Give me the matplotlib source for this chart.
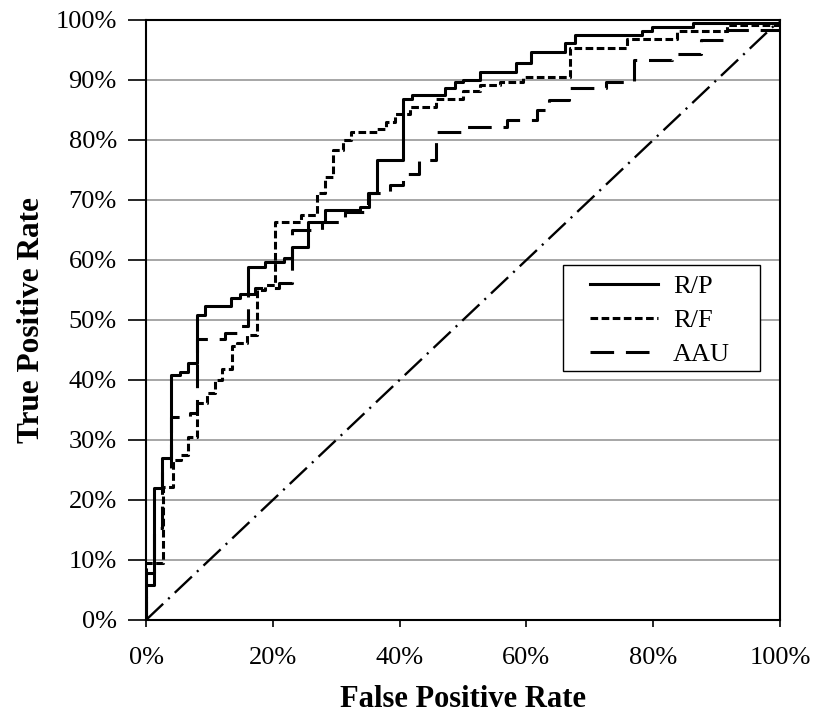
import matplotlib
matplotlib.use("Agg")
import matplotlib.pyplot as plt
from matplotlib.patches import Rectangle
from matplotlib.ticker import PercentFormatter, MultipleLocator

plt.rcParams["font.family"] = ["Liberation Serif", "DejaVu Serif"]
plt.rcParams["lines.scale_dashes"] = False

# ---- data (percent), corner points of the step curves ----
rp_fpr = [0, 0, 1.3, 1.3, 2.6, 2.6, 4.0, 4.0, 5.3, 5.3, 6.7, 6.7, 8.1, 8.1, 9.3, 9.3,
          13.4, 13.4, 14.8, 14.8, 16.1, 16.1, 18.8, 18.8, 21.7, 21.7, 23.0, 23.0,
          25.6, 25.6, 28.2, 28.2, 33.8, 33.8, 35.1, 35.1, 36.4, 36.4, 40.6, 40.6,
          41.9, 41.9, 47.2, 47.2, 48.7, 48.7, 50.0, 50.0, 52.7, 52.7, 58.4, 58.4,
          60.8, 60.8, 66.1, 66.1, 67.7, 67.7, 78.2, 78.2, 79.8, 79.8, 86.3, 86.3,
          100, 100]
rp_tpr = [0, 7.8, 7.8, 22.0, 22.0, 27.0, 27.0, 40.8, 40.8, 41.4, 41.4, 42.8, 42.8, 50.8,
          50.8, 52.3, 52.3, 53.6, 53.6, 54.4, 54.4, 58.9, 58.9, 59.7, 59.7, 60.3,
          60.3, 62.2, 62.2, 66.4, 66.4, 68.3, 68.3, 68.9, 68.9, 71.1, 71.1, 76.7,
          76.7, 86.8, 86.8, 87.5, 87.5, 88.6, 88.6, 89.6, 89.6, 90.0, 90.0, 91.4,
          91.4, 92.8, 92.8, 94.7, 94.7, 96.1, 96.1, 97.5, 97.5, 98.1, 98.1, 98.9,
          98.9, 99.5, 99.5, 100]

rf_fpr = [0, 0, 2.7, 2.7, 4.2, 4.2, 5.5, 5.5, 6.7, 6.7, 8.1, 8.1, 9.7, 9.7, 10.9, 10.9,
          12.0, 12.0, 13.5, 13.5, 14.3, 14.3, 15.9, 15.9, 17.5, 17.5, 18.8, 18.8,
          20.3, 20.3, 24.5, 24.5, 26.9, 26.9, 28.2, 28.2, 29.5, 29.5, 31.1, 31.1,
          32.4, 32.4, 36.4, 36.4, 37.8, 37.8, 39.3, 39.3, 41.6, 41.6, 45.8, 45.8,
          50.0, 50.0, 52.7, 52.7, 55.8, 55.8, 59.5, 59.5, 66.8, 66.8, 75.8, 75.8,
          83.7, 83.7, 91.6, 91.6, 100, 100]
rf_tpr = [0, 9.5, 9.5, 22.2, 22.2, 26.7, 26.7, 27.5, 27.5, 30.5, 30.5, 36.1, 36.1, 37.8,
          37.8, 40.0, 40.0, 41.9, 41.9, 45.6, 45.6, 46.1, 46.1, 47.5, 47.5, 55.0,
          55.0, 55.8, 55.8, 66.4, 66.4, 67.5, 67.5, 71.1, 71.1, 73.9, 73.9, 78.3,
          78.3, 80.0, 80.0, 81.4, 81.4, 81.9, 81.9, 83.0, 83.0, 84.4, 84.4, 85.5,
          85.5, 86.8, 86.8, 88.1, 88.1, 89.2, 89.2, 89.7, 89.7, 90.5, 90.5, 95.3,
          95.3, 96.9, 96.9, 98.1, 98.1, 99.2, 99.2, 100]

aau_fpr = [0, 0, 1.3, 1.3, 2.6, 2.6, 4.0, 4.0, 6.9, 6.9, 8.1, 8.1, 12.5, 12.5, 14.8,
           14.8, 16.1, 16.1, 17.2, 17.2, 21.0, 21.0, 23.0, 23.0, 27.7, 27.7, 31.4,
           31.4, 35.0, 35.0, 38.5, 38.5, 40.6, 40.6, 43.0, 43.0, 45.8, 45.8, 50.6,
           50.6, 57.0, 57.0, 61.6, 61.6, 63.5, 63.5, 66.7, 66.7, 72.5, 72.5, 76.9,
           76.9, 83.0, 83.0, 87.6, 87.6, 91.6, 91.6, 100, 100]
aau_tpr = [0, 5.8, 5.8, 15.3, 15.3, 24.7, 24.7, 33.8, 33.8, 34.5, 34.5, 46.8, 46.8,
           47.8, 47.8, 49.0, 49.0, 54.4, 54.4, 55.3, 55.3, 56.1, 56.1, 65.0, 65.0,
           66.4, 66.4, 68.0, 68.0, 71.1, 71.1, 72.5, 72.5, 74.4, 74.4, 76.7, 76.7,
           81.4, 81.4, 82.2, 82.2, 83.3, 83.3, 85.0, 85.0, 86.7, 86.7, 88.6, 88.6,
           89.7, 89.7, 93.3, 93.3, 94.4, 94.4, 96.7, 96.7, 98.3, 98.3, 100]

diag = [0, 100]

# ---- plot ----
fig = plt.figure(figsize=(8.14, 7.14), dpi=100)
ax = fig.add_axes([146 / 814, 1 - 620 / 714, 634 / 814, 600 / 714])

for y in range(10, 100, 10):
    ax.axhline(y, color="#a6a6a6", lw=1.4, zorder=0)

ax.plot(rp_fpr, rp_tpr, color="black", lw=2.2, label="R/P")
ax.plot(rf_fpr, rf_tpr, color="black", lw=2.2, dashes=(5.5, 2.5), label="R/F")
ax.plot(aau_fpr, aau_tpr, color="black", lw=2.2, dashes=(17, 8.5), label="AAU")
ax.plot(diag, diag, color="black", lw=1.7, dashes=(17, 5, 1.5, 5))

ax.set_xlim(0, 100)
ax.set_ylim(0, 100)
ax.xaxis.set_major_locator(MultipleLocator(20))
ax.yaxis.set_major_locator(MultipleLocator(10))
ax.xaxis.set_major_formatter(PercentFormatter(decimals=0))
ax.yaxis.set_major_formatter(PercentFormatter(decimals=0))
ax.tick_params(direction="out", width=1.2, labelsize=19)
ax.tick_params(axis="x", length=5, pad=14.5)
ax.tick_params(axis="y", length=13, pad=8)
for s in ax.spines.values():
    s.set_linewidth(1.5)

ax.set_xlabel("False Positive Rate", fontsize=22, fontweight="bold")
ax.set_ylabel("True Positive Rate", fontsize=22.5, fontweight="bold")
ax.xaxis.set_label_coords(0.5, -0.108)
ax.yaxis.set_label_coords(-0.158, 0.5)

# legend frame drawn separately (wide side padding like the original)
ax.add_patch(Rectangle((0.6577, 0.415), 0.3108, 0.1767, transform=ax.transAxes,
                       facecolor="white", edgecolor="black", lw=1.0, zorder=4.5))
leg = ax.legend(loc="upper left", bbox_to_anchor=(0.7003, 0.575), fontsize=19,
                frameon=False, handlelength=2.58, borderpad=0, labelspacing=0.39,
                handletextpad=0.57, borderaxespad=0)
leg.set_zorder(5)

fig.savefig("out.png", dpi=100)
